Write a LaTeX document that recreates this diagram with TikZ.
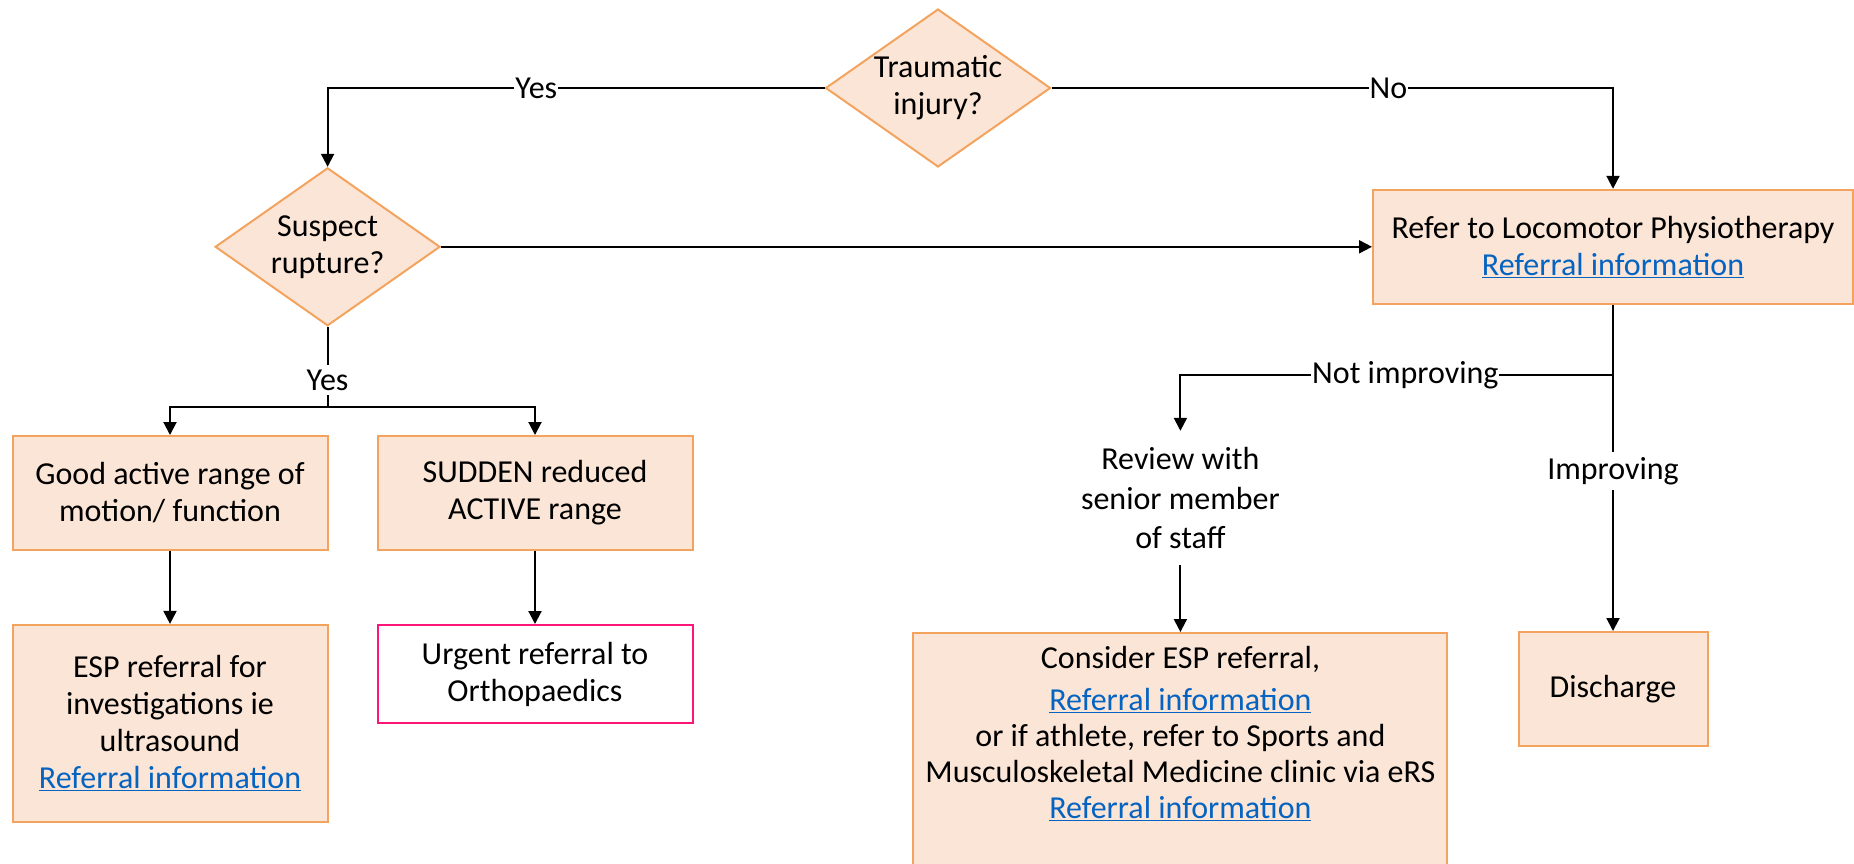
\documentclass[tikz,border=0pt]{standalone}
\usepackage{fontspec}
\setmainfont{Carlito}
\usetikzlibrary{shapes.geometric,arrows.meta}

\definecolor{boxfill}{HTML}{FBE5D6}
\definecolor{boxline}{HTML}{F4A35E}
\definecolor{urgentline}{HTML}{FF1478}
\definecolor{linkblue}{HTML}{0563C1}
\newcommand{\refinfo}{\textcolor{linkblue}{\underline{Referral information}}}

\tikzset{
    box/.style={draw=boxline, fill=boxfill, line width=2pt, align=center, inner sep=0pt},
    question/.style={diamond, draw=boxline, fill=boxfill, line width=2pt, align=center,
        inner sep=-2pt, aspect=1.42, minimum width=225pt, minimum height=158pt},
    flow/.style={line width=2pt},
    arrow/.style={line width=2pt, -{Triangle[length=13pt, width=13pt]}},
    answer/.style={fill=white, inner xsep=1pt, inner ysep=5pt},
}

\begin{document}
\begin{tikzpicture}[x=1pt, y=-1pt, font=\fontsize{32}{37}\selectfont]
    \useasboundingbox (0,0) rectangle (1854,863);
    \clip (0,0) rectangle (1854,863);

    \node[question] (trauma) at (938,88) {Traumatic\\injury?};
    \node[question] (suspect) at (327.6,246.8) {Suspect\\rupture?};

    \node[box, minimum width=315pt, minimum height=114pt] (good) at (170,493) {Good active range of\\motion/ function};
    \node[box, minimum width=315pt, minimum height=114pt] (sudden) at (535,493) {SUDDEN reduced\\ACTIVE range};
    \node[box, minimum width=315pt, minimum height=197pt] (esp) at (170,723.4) {ESP referral for\\investigations ie\\ultrasound\\\refinfo};
    \node[box, draw=urgentline, fill=white, minimum width=315pt, minimum height=98pt] (urgent) at (535,674) {Urgent referral to\\Orthopaedics};

    \node[box, minimum width=480pt, minimum height=114pt] (refer) at (1613,246.8) {Refer to Locomotor Physiotherapy\\\refinfo};
    \node[align=center, inner sep=0pt, minimum height=134pt, font=\fontsize{32}{39.5}\selectfont] (review) at (1180.4,498) {Review with\\senior member\\of staff};
    \node[box, minimum width=189pt, minimum height=114pt] (discharge) at (1613,689) {Discharge};
    \node[box, minimum width=534pt, minimum height=260pt, anchor=north] (consider) at (1180.4,632) {};
    \node[align=center, inner sep=0pt, anchor=north, font=\fontsize{32}{36}\selectfont] (considertext) at (1180.4,646)
        {Consider ESP referral,\\[6pt]\refinfo\\or if athlete, refer to Sports and\\Musculoskeletal Medicine clinic via eRS\\\refinfo};

    \coordinate (split) at (327.6,407.3);
    \coordinate (fork) at (1613,375);

    \draw[arrow] (trauma.west) -| node[answer, pos=0.29] {Yes} (suspect.north);
    \draw[arrow] (trauma.east) -| node[answer, pos=0.3] {No} (refer.north);
    \draw[arrow] (suspect.east) -- (suspect.east -| refer.west);

    \draw[flow] (suspect.south) -- node[answer, pos=0.66] {Yes} (split);
    \draw[arrow] (split) -| (good.north);
    \draw[arrow] (split) -| (sudden.north);
    \draw[arrow] (good.south) -- (esp.north);
    \draw[arrow] (sudden.south) -- (urgent.north);

    \draw[arrow] (refer.south) -- node[answer, pos=0.51] {Improving} (discharge.north);
    \draw[arrow] (fork) -| node[answer, pos=0.24] {Not improving} (review.north);
    \draw[arrow] (review.south) -- (consider.north);
\end{tikzpicture}
\end{document}
